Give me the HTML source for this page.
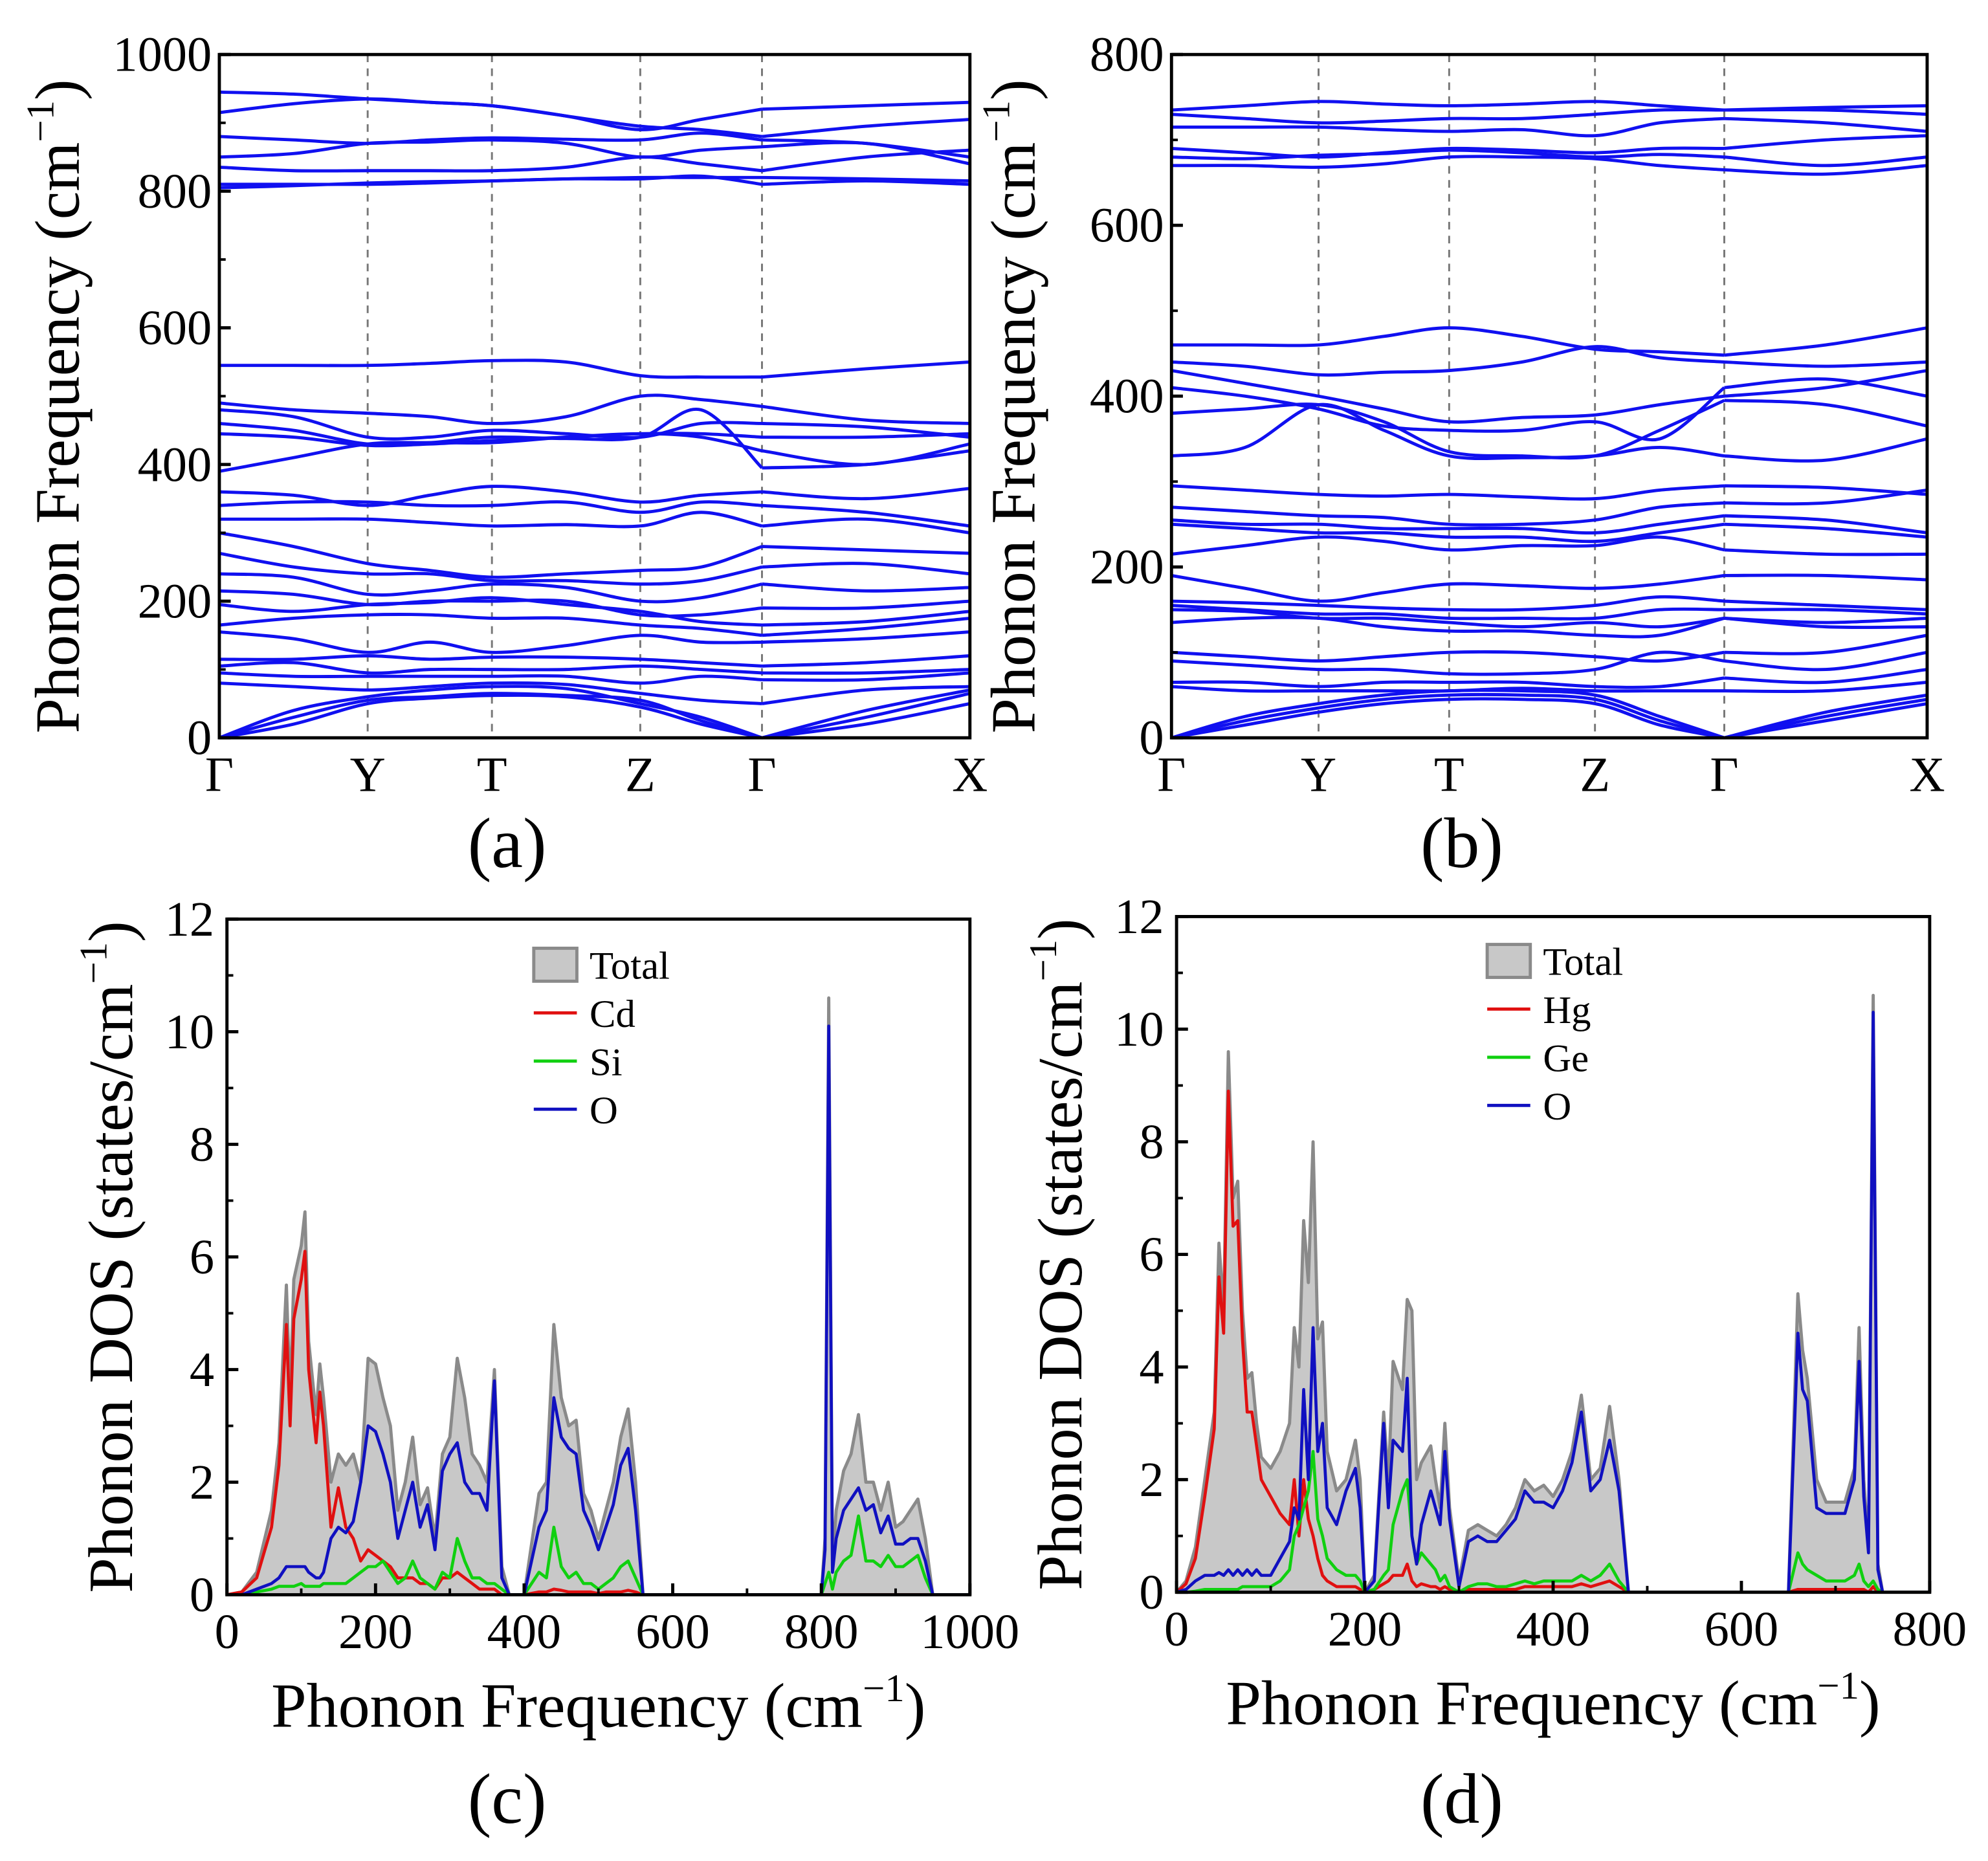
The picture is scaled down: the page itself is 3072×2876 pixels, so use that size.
<!DOCTYPE html>
<html><head><meta charset="utf-8"><style>
html,body{margin:0;padding:0;background:#fff;}
svg{display:block;font-family:"Liberation Serif",serif;}
</style></head><body>
<svg id="fig" width="3072" height="2876" viewBox="0 0 1568 1468" preserveAspectRatio="none" xmlns="http://www.w3.org/2000/svg"></svg>
<script>
// ---------- Band structure data (a): values at Γ,mid,Y,mid,T,mid,Z,mid,Γ,mid,X ----------
const kLabelsA = ["Γ","Y","T","Z","Γ","X"];
const bandsA = [
[945,942,935,930,925,910,890,905,920,925,930],
[915,928,935,930,925,910,895,890,880,895,905],
[880,875,870,875,878,876,875,885,875,870,850],
[850,855,870,872,875,870,850,860,865,870,840],
[835,830,830,830,830,835,850,840,830,850,860],
[810,810,810,812,815,818,820,820,820,818,815],
[805,808,812,814,815,818,818,822,810,815,810],
[545,545,545,548,552,550,530,528,528,540,550],
[490,480,475,470,460,470,500,495,485,465,460],
[480,470,440,440,450,445,440,460,460,455,440],
[460,450,430,432,440,438,440,480,395,400,420],
[445,440,428,430,435,440,445,445,440,440,445],
[390,410,430,432,432,440,445,440,420,400,430],
[360,355,340,355,368,360,345,355,360,350,365],
[340,345,345,340,340,345,330,345,340,330,310],
[320,320,320,315,310,312,310,330,310,320,300],
[300,280,255,245,235,240,245,250,280,275,270],
[270,250,240,240,230,230,225,230,250,255,240],
[240,235,210,215,225,220,200,205,225,215,220],
[215,210,195,200,200,200,180,180,190,190,200],
[195,185,195,198,205,195,185,170,165,170,185],
[165,175,180,180,175,175,165,160,150,160,175],
[155,145,125,140,125,135,150,140,140,145,155],
[115,115,120,115,118,118,115,110,105,110,120],
[105,110,95,100,100,100,105,100,95,95,100],
[95,90,90,90,90,90,80,90,85,85,95],
[80,75,70,75,80,78,65,55,50,70,75],
[0,40,60,70,75,72,50,30,0,40,70],
[0,30,55,60,65,62,55,25,0,30,65],
[0,20,50,58,62,60,45,20,0,20,50]
];
const bandsB = [
[735,740,745,742,740,742,745,740,735,738,740],
[730,725,720,722,725,725,730,735,735,735,730],
[715,715,715,712,710,712,705,720,725,720,710],
[690,685,680,685,690,688,685,690,690,700,705],
[680,678,682,684,688,685,680,683,680,670,680],
[670,670,668,672,680,680,678,670,665,660,670],
[460,460,460,470,480,470,455,452,448,460,480],
[440,435,425,428,430,440,458,445,440,435,440],
[430,415,400,385,370,375,378,390,400,410,430],
[410,400,385,365,360,360,370,350,410,420,400],
[380,385,390,370,335,330,330,360,395,390,365],
[330,340,390,360,330,328,330,340,330,325,350],
[295,290,285,283,285,282,280,290,295,293,285],
[270,265,260,258,250,250,255,270,275,275,290],
[255,250,250,245,245,245,240,250,260,255,240],
[250,245,240,240,235,235,230,240,250,245,235],
[215,225,235,230,220,225,225,235,220,215,215],
[190,175,160,170,180,178,175,180,190,190,185],
[160,158,155,152,150,150,155,165,160,155,150],
[155,150,145,145,140,140,140,150,150,150,145],
[150,148,140,140,135,130,135,130,140,135,140],
[135,140,140,130,125,125,120,120,140,130,130],
[100,95,90,95,100,100,95,90,100,100,120],
[90,85,80,80,75,75,80,100,90,80,100],
[65,65,60,65,65,65,60,60,70,65,80],
[60,55,55,55,55,58,55,55,55,55,65],
[0,25,40,50,55,55,50,25,0,30,50],
[0,20,35,45,50,50,45,20,0,25,45],
[0,15,30,40,45,45,40,15,0,20,40]
];
// ---------- DOS data (c) ----------
const freqC = [0,20,40,60,70,80,85,90,100,105,110,120,125,130,140,150,160,170,180,190,200,210,220,230,240,250,260,270,280,290,300,310,320,330,340,350,360,370,380,400,420,430,440,450,460,470,480,490,500,510,520,530,540,550,560,600,700,800,805,810,815,820,830,840,850,860,870,880,890,900,910,920,930,940,950,960,1000];
const totalC = [0,0.05,0.4,1.5,2.7,5.5,3.5,5.6,6.2,6.8,4.5,3.2,4.1,3.5,2.0,2.5,2.3,2.5,2.0,4.2,4.1,3.5,3.0,1.5,2.0,2.8,1.6,1.9,1.0,2.5,2.8,4.2,3.5,2.5,2.3,2.0,4.0,0.5,0,0,1.8,2.0,4.8,3.5,3.0,3.1,1.8,1.5,1.0,1.5,2.0,2.8,3.3,2.0,0,0,0,0,1.0,10.6,0.5,1.5,2.2,2.5,3.2,2.0,2.0,1.5,2.0,1.2,1.3,1.5,1.7,1.0,0,0,0];
const oC = [0,0,0.1,0.2,0.3,0.5,0.5,0.5,0.5,0.5,0.4,0.3,0.3,0.4,1.0,1.2,1.1,1.3,2.0,3.0,2.9,2.5,2.0,1.0,1.5,2.0,1.2,1.6,0.8,2.2,2.5,2.7,2.0,1.8,1.8,1.5,3.8,0.3,0,0,1.2,1.5,3.5,2.8,2.6,2.5,1.5,1.2,0.8,1.2,1.6,2.3,2.6,1.5,0,0,0,0,0.8,10.1,0.4,1.0,1.5,1.7,1.9,1.5,1.6,1.1,1.4,0.9,0.9,1.0,1.0,0.6,0,0,0];
const cdC = [0,0.05,0.3,1.2,2.3,4.8,3.0,4.9,5.6,6.1,4.0,2.7,3.6,3.0,1.2,1.9,1.2,1.0,0.6,0.8,0.7,0.6,0.5,0.3,0.3,0.3,0.2,0.2,0.1,0.3,0.3,0.4,0.3,0.2,0.1,0.1,0.1,0,0,0,0.05,0.05,0.1,0.08,0.05,0.05,0.05,0.05,0.02,0.05,0.05,0.05,0.08,0.05,0,0,0,0,0,0,0,0,0,0,0,0,0,0,0,0,0,0,0,0,0,0,0];
const siC = [0,0,0.05,0.1,0.15,0.15,0.15,0.15,0.2,0.15,0.15,0.15,0.15,0.2,0.2,0.2,0.2,0.3,0.4,0.5,0.5,0.6,0.4,0.2,0.3,0.6,0.3,0.2,0.1,0.4,0.3,1.0,0.6,0.3,0.3,0.2,0.2,0.1,0,0,0.4,0.3,1.2,0.5,0.3,0.4,0.2,0.2,0.1,0.2,0.3,0.5,0.6,0.3,0,0,0,0,0.2,0.4,0.1,0.4,0.6,0.7,1.4,0.6,0.6,0.5,0.7,0.5,0.5,0.6,0.7,0.3,0,0,0];
// ---------- DOS data (d) ----------
const freqD = [0,10,20,30,40,45,50,55,60,65,70,75,80,85,90,100,110,120,125,130,135,140,145,150,155,160,170,180,190,195,200,210,220,225,230,240,245,250,255,260,270,275,280,285,290,300,310,320,330,340,350,360,370,380,390,400,410,420,430,440,450,460,470,480,490,500,600,650,660,665,670,680,690,700,710,720,725,730,735,740,745,750,760,800];
const totalD = [0,0.2,0.8,2.0,3.2,6.2,5.0,9.6,7.0,7.3,5.0,3.8,3.9,3.0,2.4,2.2,2.5,3.0,4.7,4.0,6.6,5.5,8.0,4.5,4.8,2.5,1.8,2.0,2.7,2.0,0,0.3,3.2,2.0,4.1,3.6,5.2,5.0,2.0,2.3,2.6,2.0,1.5,3.0,1.5,0.2,1.1,1.2,1.1,1.0,1.2,1.5,2.0,1.8,1.9,1.7,2.0,2.5,3.5,2.0,2.2,3.3,2.0,0,0,0,0,0,5.3,4.3,3.8,2.0,1.6,1.6,1.6,2.2,4.7,2.0,0.8,10.6,0.5,0,0,0];
const oD = [0,0.05,0.2,0.3,0.3,0.35,0.3,0.4,0.3,0.4,0.3,0.4,0.3,0.4,0.3,0.3,0.6,0.9,1.5,1.3,3.6,2.0,4.7,2.5,3.0,1.5,1.2,1.8,2.2,1.5,0,0.2,3.0,1.5,2.7,2.5,3.8,1.0,0.5,1.2,1.8,1.5,1.2,2.5,1.3,0.1,0.9,1.0,0.9,0.9,1.1,1.3,1.8,1.6,1.6,1.5,1.8,2.3,3.2,1.8,2.0,2.7,1.8,0,0,0,0,0,4.6,3.6,3.4,1.5,1.4,1.4,1.4,2.0,4.1,1.7,0.7,10.3,0.4,0,0,0];
const hgD = [0,0.15,0.6,1.7,2.9,5.6,4.6,8.9,6.5,6.6,4.5,3.2,3.2,2.6,2.0,1.7,1.4,1.2,2.0,1.0,2.0,1.3,1.0,0.6,0.3,0.2,0.1,0.1,0.1,0.05,0,0.05,0.15,0.2,0.3,0.3,0.5,0.2,0.1,0.15,0.1,0.1,0.05,0.1,0.05,0,0.05,0.05,0.05,0.05,0.05,0.05,0.1,0.1,0.1,0.1,0.1,0.1,0.15,0.1,0.15,0.2,0.1,0,0,0,0,0,0.05,0.05,0.05,0.05,0.05,0.05,0.05,0.05,0.05,0.05,0,0.1,0,0,0,0];
const geD = [0,0,0.02,0.05,0.05,0.05,0.05,0.05,0.05,0.05,0.1,0.1,0.1,0.1,0.1,0.1,0.2,0.4,1.0,1.2,1.5,1.8,2.5,1.3,1.0,0.6,0.4,0.3,0.3,0.2,0,0.05,0.3,0.4,1.2,1.8,2.0,1.0,0.5,0.7,0.5,0.4,0.2,0.3,0.1,0,0.1,0.15,0.15,0.1,0.1,0.15,0.2,0.15,0.2,0.2,0.2,0.2,0.3,0.2,0.3,0.5,0.2,0,0,0,0,0,0.7,0.5,0.4,0.3,0.2,0.2,0.2,0.3,0.5,0.2,0.1,0.2,0.05,0,0,0];
const ticksA = [0,200,400,600,800,1000];
const ticksB = [0,200,400,600,800];
const ticksDosY = [0,2,4,6,8,10,12];
const ticksDosXC = [0,200,400,600,800,1000];
const ticksDosXD = [0,200,400,600,800];

const NS="http://www.w3.org/2000/svg";
const svg=document.getElementById('fig');
const TICK=39, TITLE=50, PLAB=56, LEG=31;
function mk(tag,attrs,parent){const e=document.createElementNS(NS,tag);for(const k in attrs)e.setAttribute(k,attrs[k]);(parent||svg).appendChild(e);return e;}
function txt(x,y,s,size,parent,anchor){const t=mk('text',{x:x,y:y,'font-size':size,'text-anchor':anchor||'middle',fill:'#000'},parent);t.textContent=s;return t;}
function cmTitle(g,x,y,size,pre,post,rot){
  const t=mk('text',{x:x,y:y,'font-size':size,'text-anchor':'middle',fill:'#000'},g);
  if(rot)t.setAttribute('transform','rotate(-90 '+x+' '+y+')');
  const a=mk('tspan',{},t);a.textContent=pre+'cm';
  const b=mk('tspan',{dy:-size*0.4,'font-size':size*0.62},t);b.textContent='−1';
  const c=mk('tspan',{dy:size*0.4},t);c.textContent=post;
  return t;
}
function smooth(pts){
  let d='M'+pts[0][0]+','+pts[0][1];
  for(let i=0;i<pts.length-1;i++){
    const p0=pts[Math.max(0,i-1)],p1=pts[i],p2=pts[i+1],p3=pts[Math.min(pts.length-1,i+2)];
    const c1=[p1[0]+(p2[0]-p0[0])/6,p1[1]+(p2[1]-p0[1])/6];
    const c2=[p2[0]-(p3[0]-p1[0])/6,p2[1]-(p3[1]-p1[1])/6];
    d+=' C'+c1[0]+','+c1[1]+' '+c2[0]+','+c2[1]+' '+p2[0]+','+p2[1];
  }
  return d;
}

function bandPanel(name,L,R,T,B,ymax,ticks,nodesX,bands,label,labX,titleX){
  const g=mk('g',{});
  
  
  const ys=v=>B-(v/ymax)*(B-T);
  for(let i=1;i<nodesX.length-1;i++){
    const l=mk('line',{x1:nodesX[i],x2:nodesX[i],y1:T,y2:B,stroke:'#777','stroke-width':1.5,'stroke-dasharray':'6,5'},g);
    
    
  }
  const xs=[];
  for(let i=0;i<nodesX.length-1;i++){xs.push(nodesX[i]);xs.push((nodesX[i]+nodesX[i+1])/2);}
  xs.push(nodesX[nodesX.length-1]);
  bands.forEach((b,bi)=>{
    const seg1=b.slice(0,9).map((v,i)=>[xs[i],ys(v)]);
    const seg2=b.slice(8).map((v,i)=>[xs[i+8],ys(v)]);
    const p=mk('path',{d:smooth(seg1)+' '+smooth(seg2),fill:'none',stroke:'#1010f0','stroke-width':2.5},g);
    
    
  });
  mk('rect',{x:L,y:T,width:R-L,height:B-T,fill:'none',stroke:'#000','stroke-width':2.5},g);
  const step=ticks[1]-ticks[0];
  ticks.forEach(v=>{
    mk('line',{x1:L,x2:L+9,y1:ys(v),y2:ys(v),stroke:'#000','stroke-width':2.5},g);
    if(v+step/2<=ymax) mk('line',{x1:L,x2:L+5,y1:ys(v+step/2),y2:ys(v+step/2),stroke:'#000','stroke-width':2},g);
    const t=txt(L-6,ys(v)+13,String(v),TICK,g,'end');
    
    
  });
  kLabelsA.forEach((k,i)=>{
    const t=txt(nodesX[i],B+42,k,TICK,g);
    
    
  });
  const yt=cmTitle(g,titleX,(T+B)/2+8,TITLE,'Phonon Frequency (',')',true);
  
  
  const pl=txt(labX,684,label,PLAB,g);
  
  
}

function dosPanel(name,L,R,T,B,xmax,xticks,freq,total,series,legX,legY,label,titleY){
  const g=mk('g',{});
  
  
  const xs=v=>L+(v/xmax)*(R-L), ys=v=>B-(v/12)*(B-T);
  let d='M'+xs(freq[0])+','+ys(0);
  freq.forEach((f,i)=>{d+=' L'+xs(f)+','+ys(total[i]);});
  d+=' L'+xs(freq[freq.length-1])+','+ys(0)+' Z';
  const area=mk('path',{d:d,fill:'#c8c8c8',stroke:'#8a8a8a','stroke-width':2.5,'stroke-linejoin':'round'},g);
  
  
  series.forEach(s=>{
    const dd=freq.map((f,i)=>(i?'L':'M')+xs(f)+','+ys(s.v[i])).join(' ');
    const p=mk('path',{d:dd,fill:'none',stroke:s.c,'stroke-width':2.4,'stroke-linejoin':'round'},g);
    
    
  });
  mk('rect',{x:L,y:T,width:R-L,height:B-T,fill:'none',stroke:'#000','stroke-width':2.5},g);
  ticksDosY.forEach(v=>{
    mk('line',{x1:L,x2:L+9,y1:ys(v),y2:ys(v),stroke:'#000','stroke-width':2.5},g);
    if(v<12) mk('line',{x1:L,x2:L+5,y1:ys(v+1),y2:ys(v+1),stroke:'#000','stroke-width':2},g);
    const t=txt(L-10,ys(v)+13,String(v),TICK,g,'end');
    
    
  });
  xticks.forEach(v=>{
    mk('line',{x1:xs(v),x2:xs(v),y1:B,y2:B-9,stroke:'#000','stroke-width':2.5},g);
    if(v<xmax) mk('line',{x1:xs(v+100),x2:xs(v+100),y1:B,y2:B-5,stroke:'#000','stroke-width':2},g);
    const t=txt(xs(v),B+42,String(v),TICK,g);
    
    
  });
  const lg=mk('g',{},g);
  
  
  mk('rect',{x:legX,y:legY-13,width:34,height:26,fill:'#c8c8c8',stroke:'#8a8a8a','stroke-width':2.5},lg);
  txt(legX+44,legY+11,'Total',LEG,lg,'start');
  series.forEach((s,i)=>{
    const yy=legY+38*(i+1);
    mk('line',{x1:legX,x2:legX+34,y1:yy,y2:yy,stroke:s.c,'stroke-width':2.5},lg);
    txt(legX+44,yy+11,s.n,LEG,lg,'start');
  });
  const xt=cmTitle(g,(L+R)/2,titleY,TITLE,'Phonon Frequency (',')',false);
  
  
  const yt=cmTitle(g,L-75,(T+B)/2,TITLE,'Phonon DOS (states/',')',true);
  
  
  const pl=txt((L+R)/2-72,1438,label,PLAB,g);
  
  
}

bandPanel('band-structure-a',173,765,43,582,1000,ticksA,[173,290,388,505,601,765],bandsA,'(a)',400,62);
bandPanel('band-structure-b',924,1520,43,582,800,ticksB,[924,1040,1143,1258,1360,1520],bandsB,'(b)',1153,816);
dosPanel('dos-panel-c',179,765,725,1258,1000,ticksDosXC,freqC,totalC,
 [{n:'Cd',c:'#e01010',v:cdC},{n:'Si',c:'#10d010',v:siC},{n:'O',c:'#1010c0',v:oC}],421,761,'(c)',1362);
dosPanel('dos-panel-d',928,1522,723,1256,800,ticksDosXD,freqD,totalD,
 [{n:'Hg',c:'#e01010',v:hgD},{n:'Ge',c:'#10d010',v:geD},{n:'O',c:'#1010c0',v:oD}],1173,758,'(d)',1360);
</script>
</body></html>
